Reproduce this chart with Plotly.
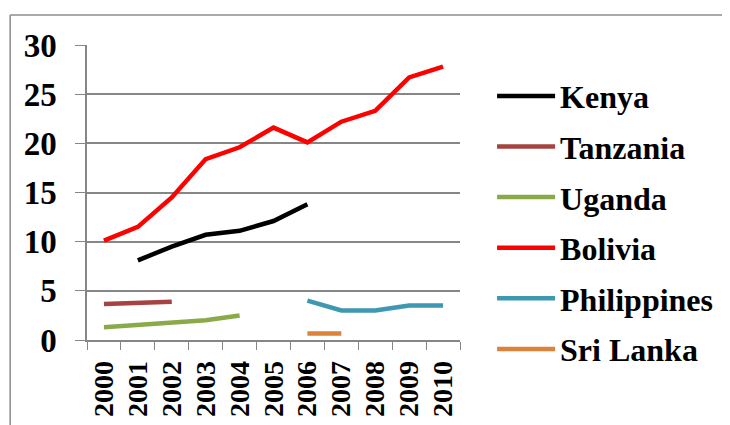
import plotly.graph_objects as go

years = ["2000", "2001", "2002", "2003", "2004", "2005",
         "2006", "2007", "2008", "2009", "2010"]

kenya = [None, 8.1, 9.5, 10.7, 11.1, 12.1, 13.8, None, None, None, None]
tanzania = [3.65, 3.8, 3.9, None, None, None, None, None, None, None, None]
uganda = [1.3, 1.55, 1.85, 2.0, 2.5, None, None, None, None, None, None]
bolivia = [10.1, 11.5, 14.5, 18.4, 19.6, 21.6, 20.1, 22.2, 23.3, 26.7, 27.8]
philippines = [None, None, None, None, None, None, 4.0, 3.0, 3.0, 3.5, 3.5]
sri_lanka = [None, None, None, None, None, None, 0.65, 0.65, None, None, None]

series = [
    ("Kenya", kenya, "#000000"),
    ("Tanzania", tanzania, "#A4433F"),
    ("Uganda", uganda, "#8AAA4A"),
    ("Bolivia", bolivia, "#FF0000"),
    ("Philippines", philippines, "#3F98B2"),
    ("Sri Lanka", sri_lanka, "#DB833A"),
]

font = dict(family="Times New Roman, Liberation Serif, serif",
            color="black", weight="bold")

fig = go.Figure()
for name, vals, col in series:
    fig.add_trace(go.Scatter(x=years, y=vals, name=name, mode="lines",
                             legendgroup=name, connectgaps=False,
                             line=dict(color=col, width=4.5)))

# outer chart frame (only top and left edges visible)
frame = dict(type="line", xref="paper", yref="paper",
             line=dict(color="#8c8c8c", width=1.5))
fig.add_shape(x0=-0.206, y0=1.102, x1=2, y1=1.102, **frame)
fig.add_shape(x0=-0.206, y0=1.102, x1=-0.206, y1=-1, **frame)

# page body adds 8px offset, margins compensate for it
fig.update_layout(
    width=730, height=425,
    margin=dict(l=79, r=278, t=37, b=93),
    paper_bgcolor="white", plot_bgcolor="white",
    font=font,
    showlegend=True,
    legend=dict(x=1.086, y=0.92, xanchor="left", yanchor="top",
                font=dict(size=32, **font), itemwidth=58,
                traceorder="grouped", tracegroupgap=6, maxheight=1000),
)
fig.update_xaxes(type="category", range=[-0.5, len(years) - 0.5],
                 tickmode="array", tickvals=years, ticktext=years,
                 tickson="boundaries", ticks="outside",
                 ticklen=8, tickcolor="#868686", tickangle=-90,
                 tickfont=dict(size=28, **font), ticklabelstandoff=8,
                 showline=True, linecolor="#868686", linewidth=1.5,
                 showgrid=False)
fig.update_yaxes(range=[0, 30], dtick=5, ticks="outside", ticklen=10,
                 tickcolor="#868686", tickfont=dict(size=33, **font),
                 ticklabelstandoff=12,
                 showline=True, linecolor="#868686", linewidth=1.5,
                 showgrid=True, gridcolor="#868686", gridwidth=1.5,
                 zeroline=False)

fig.write_html("out.html")
